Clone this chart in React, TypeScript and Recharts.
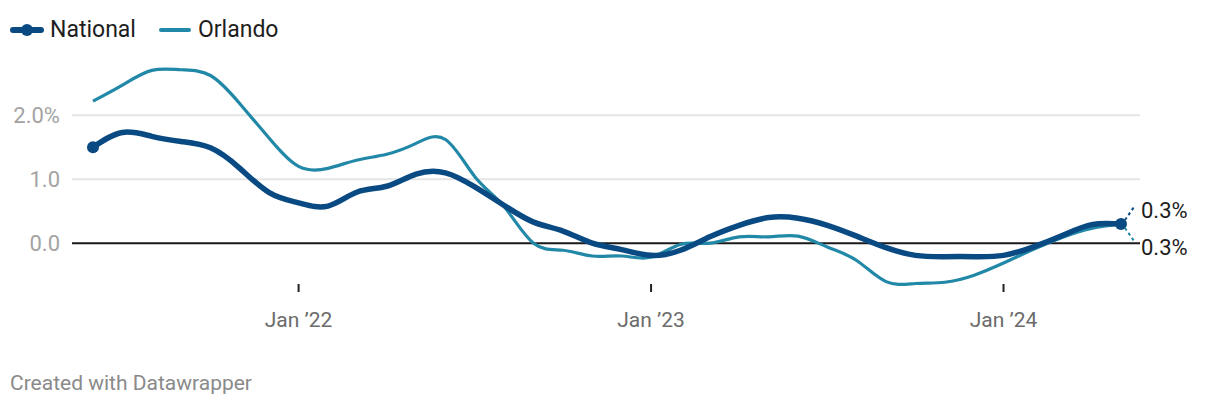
import { LineChart, Line, XAxis, YAxis, CartesianGrid, ReferenceLine, LabelList } from "recharts";

// monthly, Jun 2021 .. May 2024
const months = Array.from({ length: 36 }, (_, i) => i);
const national = [
  1.5, 1.73, 1.67, 1.59, 1.49, 1.17, 0.79, 0.63, 0.58, 0.8, 0.89, 1.08,
  1.1, 0.88, 0.59, 0.33, 0.19, 0.0, -0.1, -0.19, -0.11, 0.1, 0.28, 0.4,
  0.39, 0.28, 0.11, -0.07, -0.19, -0.21, -0.21, -0.19, -0.06, 0.12, 0.29, 0.3,
];
const orlando = [
  2.22, 2.47, 2.7, 2.71, 2.62, 2.18, 1.64, 1.2, 1.17, 1.3, 1.39, 1.56,
  1.62, 1.04, 0.57, 0.0, -0.11, -0.2, -0.2, -0.22, -0.02, 0.0, 0.1, 0.1,
  0.11, -0.06, -0.27, -0.6, -0.63, -0.61, -0.5, -0.31, -0.1, 0.09, 0.23, 0.3,
];
const xTicks = [7, 19, 31];
const xTickLabels = ["Jan ’22", "Jan ’23", "Jan ’24"];
const yTicks = [0, 1, 2];
const gridValues = [1, 2];

const NAT = "#0a4a83";
const ORL = "#2288a7";
const FONT = "Roboto, sans-serif";

const data = months.map((m, i) => ({ m, national: national[i], orlando: orlando[i] }));
const last = data.length - 1;

const series = [
  { name: "National", color: NAT, width: 6, dot: true },
  { name: "Orlando", color: ORL, width: 4, dot: false },
];

function XTick(props: any) {
  const { x, y, payload } = props;
  const label = xTickLabels[xTicks.indexOf(payload.value)];
  return (
    <g>
      <line x1={x} x2={x} y1={y - 4} y2={y + 4} stroke="#222" strokeWidth={2} />
      <text x={x} y={y + 39} textAnchor="middle" fill="#6b6b6b" fontSize={21} fontFamily={FONT}>
        {label}
      </text>
    </g>
  );
}

function YTick(props: any) {
  const { x, y, payload } = props;
  const v = payload.value as number;
  const label = v === 2 ? "2.0%" : v.toFixed(1);
  return (
    <text x={x} y={y + 8} textAnchor="end" fill="#a3a3a3" fontSize={22} fontFamily={FONT}>
      {label}
    </text>
  );
}

function endLabel(color: string, up: boolean) {
  return (props: any) => {
    const { x, y, value, index } = props;
    if (index !== last) return null;
    const s = up ? -1 : 1;
    return (
      <g>
        <line x1={x + 4} y1={y + s * 4} x2={x + 13} y2={y + s * 17} stroke={color} strokeWidth={2} strokeDasharray="3 3" />
        <text x={x + 20} y={up ? y - 6 : y + 31} fill="#1d1d1d" fontSize={22} fontFamily={FONT}>
          {Number(value).toFixed(1)}%
        </text>
      </g>
    );
  };
}

export default function App() {
  return (
    <div style={{ position: "absolute", left: 0, top: 0, width: 1220, height: 410, background: "#fff", fontFamily: FONT }}>
      <div style={{ position: "absolute", top: 16, left: 10, display: "flex", alignItems: "center", fontSize: 23, lineHeight: "27px", color: "#1d1d1d" }}>
        {series.map((s) => (
          <div key={s.name} style={{ display: "flex", alignItems: "center", marginRight: 22 }}>
            <svg width={34} height={14} style={{ marginRight: 6 }}>
              <line x1={3} x2={31} y1={7} y2={7} stroke={s.color} strokeWidth={s.width} strokeLinecap="round" />
              {s.dot && <circle cx={17} cy={7} r={6} fill={s.color} />}
            </svg>
            <span>{s.name}</span>
          </div>
        ))}
      </div>
      <LineChart width={1220} height={410} data={data} margin={{ top: 64, right: 80, bottom: 82, left: 0 }}>
        <CartesianGrid vertical={false} horizontalValues={gridValues} stroke="#e5e5e5" strokeWidth={2} />
        <XAxis
          dataKey="m"
          type="number"
          domain={[0, 35]}
          ticks={xTicks}
          padding={{ left: 21, right: 19 }}
          axisLine={false}
          tickLine={false}
          tickSize={0}
          tickMargin={0}
          height={40}
          tick={<XTick />}
          interval={0}
        />
        <YAxis
          domain={[-0.7, 2.8]}
          ticks={yTicks}
          width={72}
          axisLine={false}
          tickLine={false}
          tickSize={0}
          tickMargin={12}
          tick={<YTick />}
          interval={0}
        />
        <ReferenceLine y={0} stroke="#1a1a1a" strokeWidth={2} />
        <Line
          dataKey="orlando"
          type="natural"
          stroke={ORL}
          strokeWidth={3.2}
          dot={false}
          activeDot={false}
          isAnimationActive={false}
        >
          <LabelList dataKey="orlando" content={endLabel(ORL, false)} />
        </Line>
        <Line
          dataKey="national"
          type="natural"
          stroke={NAT}
          strokeWidth={5.5}
          dot={(p: any) =>
            p.index === 0 || p.index === last ? (
              <circle key={p.index} cx={p.cx} cy={p.cy} r={6} fill={NAT} />
            ) : (
              <g key={p.index} />
            )
          }
          activeDot={false}
          isAnimationActive={false}
        >
          <LabelList dataKey="national" content={endLabel(NAT, true)} />
        </Line>
      </LineChart>
      <div style={{ position: "absolute", top: 371, left: 10, fontSize: 21, lineHeight: "25px", color: "#8a8a8a" }}>
        Created with Datawrapper
      </div>
    </div>
  );
}
